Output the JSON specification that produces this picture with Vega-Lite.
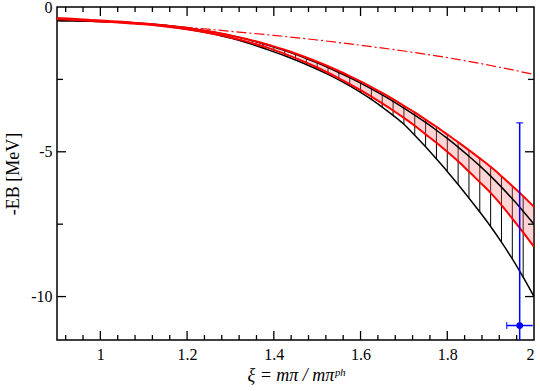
{
  "$schema": "https://vega.github.io/schema/vega-lite/v6.json",
  "width": 477,
  "height": 333,
  "autosize": "none",
  "padding": {"left": 57, "top": 7, "right": 6, "bottom": 51},
  "background": "white",
  "config": {
    "view": {"stroke": "#000000", "strokeWidth": 1.5},
    "font": "Liberation Serif",
    "axis": {
      "domain": false,
      "ticks": false,
      "tickSize": 0,
      "grid": false,
      "labelColor": "#000000",
      "labelFont": "Liberation Serif",
      "labelFontSize": 16,
      "titleFont": "Liberation Serif",
      "titleFontSize": 18,
      "titleFontWeight": "normal",
      "titleColor": "#000000"
    }
  },
  "datasets": {
    "curves": [
      {"x": 0.9, "bu": -0.47, "bl": -0.47, "ru": -0.38, "rl": -0.42, "dd": -0.40},
      {"x": 0.925, "bu": -0.475, "bl": -0.475, "ru": -0.40, "rl": -0.437},
      {"x": 0.95, "bu": -0.481, "bl": -0.481, "ru": -0.421, "rl": -0.456},
      {"x": 0.975, "bu": -0.49, "bl": -0.49, "ru": -0.445, "rl": -0.477},
      {"x": 1.0, "bu": -0.50, "bl": -0.50, "ru": -0.47, "rl": -0.50, "dd": -0.47},
      {"x": 1.025, "bu": -0.512, "bl": -0.516, "ru": -0.49, "rl": -0.52},
      {"x": 1.05, "bu": -0.528, "bl": -0.536, "ru": -0.513, "rl": -0.543},
      {"x": 1.075, "bu": -0.547, "bl": -0.561, "ru": -0.54, "rl": -0.57},
      {"x": 1.1, "bu": -0.57, "bl": -0.59, "ru": -0.57, "rl": -0.60, "dd": -0.57},
      {"x": 1.125, "bu": -0.598, "bl": -0.624, "ru": -0.601, "rl": -0.631},
      {"x": 1.15, "bu": -0.633, "bl": -0.665, "ru": -0.638, "rl": -0.671},
      {"x": 1.175, "bu": -0.673, "bl": -0.714, "ru": -0.681, "rl": -0.717},
      {"x": 1.2, "bu": -0.72, "bl": -0.77, "ru": -0.73, "rl": -0.77, "dd": -0.70},
      {"x": 1.225, "bu": -0.774, "bl": -0.831, "ru": -0.782, "rl": -0.829},
      {"x": 1.25, "bu": -0.835, "bl": -0.901, "ru": -0.84, "rl": -0.895},
      {"x": 1.275, "bu": -0.904, "bl": -0.981, "ru": -0.907, "rl": -0.969},
      {"x": 1.3, "bu": -0.98, "bl": -1.07, "ru": -0.98, "rl": -1.05, "dd": -0.84},
      {"x": 1.325, "bu": -1.066, "bl": -1.176, "ru": -1.061, "rl": -1.143},
      {"x": 1.35, "bu": -1.162, "bl": -1.291, "ru": -1.152, "rl": -1.247},
      {"x": 1.375, "bu": -1.266, "bl": -1.416, "ru": -1.251, "rl": -1.358},
      {"x": 1.4, "bu": -1.38, "bl": -1.55, "ru": -1.36, "rl": -1.48, "dd": -0.98},
      {"x": 1.425, "bu": -1.503, "bl": -1.684, "ru": -1.478, "rl": -1.618},
      {"x": 1.45, "bu": -1.636, "bl": -1.829, "ru": -1.606, "rl": -1.766},
      {"x": 1.475, "bu": -1.778, "bl": -1.984, "ru": -1.743, "rl": -1.923},
      {"x": 1.5, "bu": -1.93, "bl": -2.15, "ru": -1.89, "rl": -2.09, "dd": -1.14},
      {"x": 1.525, "bu": -2.09, "bl": -2.327, "ru": -2.045, "rl": -2.27},
      {"x": 1.55, "bu": -2.261, "bl": -2.519, "ru": -2.211, "rl": -2.461},
      {"x": 1.575, "bu": -2.44, "bl": -2.727, "ru": -2.385, "rl": -2.66},
      {"x": 1.6, "bu": -2.63, "bl": -2.95, "ru": -2.57, "rl": -2.87, "dd": -1.32},
      {"x": 1.625, "bu": -2.829, "bl": -3.192, "ru": -2.764, "rl": -3.094},
      {"x": 1.65, "bu": -3.038, "bl": -3.456, "ru": -2.968, "rl": -3.328},
      {"x": 1.675, "bu": -3.259, "bl": -3.742, "ru": -3.184, "rl": -3.574},
      {"x": 1.7, "bu": -3.49, "bl": -4.05, "ru": -3.41, "rl": -3.83, "dd": -1.52},
      {"x": 1.725, "bu": -3.732, "bl": -4.43, "ru": -3.642, "rl": -4.102},
      {"x": 1.75, "bu": -3.988, "bl": -4.83, "ru": -3.888, "rl": -4.398},
      {"x": 1.775, "bu": -4.257, "bl": -5.25, "ru": -4.137, "rl": -4.687},
      {"x": 1.8, "bu": -4.54, "bl": -5.68, "ru": -4.40, "rl": -5.00, "dd": -1.75},
      {"x": 1.825, "bu": -4.837, "bl": -6.13, "ru": -4.667, "rl": -5.327},
      {"x": 1.85, "bu": -5.153, "bl": -6.60, "ru": -4.943, "rl": -5.683},
      {"x": 1.875, "bu": -5.487, "bl": -7.08, "ru": -5.227, "rl": -6.047},
      {"x": 1.9, "bu": -5.84, "bl": -7.58, "ru": -5.52, "rl": -6.42, "dd": -2.02},
      {"x": 1.925, "bu": -6.221, "bl": -8.12, "ru": -5.841, "rl": -6.841},
      {"x": 1.95, "bu": -6.625, "bl": -8.70, "ru": -6.185, "rl": -7.305},
      {"x": 1.975, "bu": -7.051, "bl": -9.33, "ru": -6.531, "rl": -7.781},
      {"x": 2.0, "bu": -7.50, "bl": -10.0, "ru": -6.90, "rl": -8.28, "dd": -2.33}
    ],
    "exp": [
      {"x": 1.967, "y": -11.0, "xlo": 1.937, "xhi": 1.997, "ylo": -18.0, "yhi": -4.0}
    ],
    "xticks": [
      {"v": 0.92, "k": "minor"}, {"v": 0.96, "k": "minor"}, {"v": 1.0, "k": "major"},
      {"v": 1.04, "k": "minor"}, {"v": 1.08, "k": "minor"}, {"v": 1.12, "k": "minor"}, {"v": 1.16, "k": "minor"}, {"v": 1.2, "k": "major"},
      {"v": 1.24, "k": "minor"}, {"v": 1.28, "k": "minor"}, {"v": 1.32, "k": "minor"}, {"v": 1.36, "k": "minor"}, {"v": 1.4, "k": "major"},
      {"v": 1.44, "k": "minor"}, {"v": 1.48, "k": "minor"}, {"v": 1.52, "k": "minor"}, {"v": 1.56, "k": "minor"}, {"v": 1.6, "k": "major"},
      {"v": 1.64, "k": "minor"}, {"v": 1.68, "k": "minor"}, {"v": 1.72, "k": "minor"}, {"v": 1.76, "k": "minor"}, {"v": 1.8, "k": "major"},
      {"v": 1.84, "k": "minor"}, {"v": 1.88, "k": "minor"}, {"v": 1.92, "k": "minor"}, {"v": 1.96, "k": "minor"}
    ],
    "yticks": [
      {"v": -2.5, "k": "minor"}, {"v": -5, "k": "major"}, {"v": -7.5, "k": "minor"}, {"v": -10, "k": "major"}
    ]
  },
  "encoding": {
    "x": {"type": "quantitative",
          "scale": {"domain": [0.9, 2], "nice": false, "zero": false},
          "axis": {"orient": "bottom", "values": [1, 1.2, 1.4, 1.6, 1.8, 2],
                   "labelExpr": "'' + datum.value",
                   "labelPadding": 6, "title": "ξ = mπ / mπᵖʰ", "titleFontStyle": "italic", "titlePadding": 4}},
    "y": {"type": "quantitative",
          "scale": {"domain": [-11.5, 0], "nice": false, "zero": false},
          "axis": {"orient": "left", "values": [0, -5, -10],
                   "labelExpr": "'' + datum.value",
                   "labelPadding": 5, "title": "-EB [MeV]", "titlePadding": 8}}
  },
  "layer": [
    {
      "data": {"name": "curves"},
      "transform": [{"filter": "datum.x >= 1.1"}],
      "mark": {"type": "rule", "color": "#000000", "strokeWidth": 1, "clip": true},
      "encoding": {
        "x": {"field": "x"},
        "y": {"field": "ru"},
        "y2": {"field": "bl"}
      }
    },
    {
      "data": {"name": "curves"},
      "mark": {"type": "area", "color": "#ff7070", "opacity": 0.3, "interpolate": "monotone", "clip": true},
      "encoding": {
        "x": {"field": "x"},
        "y": {"field": "ru"},
        "y2": {"field": "rl"}
      }
    },
    {
      "data": {"name": "curves"},
      "mark": {"type": "line", "color": "#000000", "strokeWidth": 1.5, "interpolate": "monotone", "clip": true},
      "encoding": {"x": {"field": "x"}, "y": {"field": "bu"}}
    },
    {
      "data": {"name": "curves"},
      "mark": {"type": "line", "color": "#000000", "strokeWidth": 1.5, "interpolate": "monotone", "clip": true},
      "encoding": {"x": {"field": "x"}, "y": {"field": "bl"}}
    },
    {
      "data": {"name": "curves"},
      "mark": {"type": "line", "color": "#ff0000", "strokeWidth": 2, "interpolate": "monotone", "clip": true},
      "encoding": {"x": {"field": "x"}, "y": {"field": "ru"}}
    },
    {
      "data": {"name": "curves"},
      "mark": {"type": "line", "color": "#ff0000", "strokeWidth": 2, "interpolate": "monotone", "clip": true},
      "encoding": {"x": {"field": "x"}, "y": {"field": "rl"}}
    },
    {
      "data": {"name": "curves"},
      "transform": [{"filter": "isValid(datum.dd)"}],
      "mark": {"type": "line", "color": "#ff0000", "strokeWidth": 1.2, "strokeDash": [10, 3, 2, 3], "interpolate": "monotone", "clip": true},
      "encoding": {"x": {"field": "x"}, "y": {"field": "dd"}}
    },
    {
      "data": {"name": "exp"},
      "mark": {"type": "rule", "color": "#0000ff", "strokeWidth": 1.5, "clip": true},
      "encoding": {"x": {"field": "x"}, "y": {"field": "ylo"}, "y2": {"field": "yhi"}}
    },
    {
      "data": {"name": "exp"},
      "mark": {"type": "rule", "color": "#0000ff", "strokeWidth": 1.5, "clip": true},
      "encoding": {"x": {"field": "xlo"}, "x2": {"field": "xhi"}, "y": {"field": "y"}}
    },
    {
      "data": {"name": "exp"},
      "mark": {"type": "tick", "color": "#0000ff", "orient": "horizontal", "size": 7, "thickness": 1.5, "clip": true},
      "encoding": {"x": {"field": "x"}, "y": {"field": "yhi"}}
    },
    {
      "data": {"name": "exp"},
      "mark": {"type": "tick", "color": "#0000ff", "orient": "vertical", "size": 7, "thickness": 1.5, "clip": true},
      "encoding": {"x": {"field": "xlo"}, "y": {"field": "y"}}
    },
    {
      "data": {"name": "exp"},
      "mark": {"type": "point", "shape": "circle", "filled": true, "color": "#0000ff", "size": 45, "opacity": 1, "clip": true},
      "encoding": {"x": {"field": "x"}, "y": {"field": "y"}}
    },
    {
      "data": {"name": "xticks"},
      "transform": [{"filter": "datum.k == 'major'"}],
      "mark": {"type": "rule", "color": "#000000", "strokeWidth": 1.3},
      "encoding": {"x": {"field": "v"}, "y": {"datum": -11.5}, "y2": {"datum": -11.19}}
    },
    {
      "data": {"name": "xticks"},
      "transform": [{"filter": "datum.k == 'minor'"}],
      "mark": {"type": "rule", "color": "#000000", "strokeWidth": 1.3},
      "encoding": {"x": {"field": "v"}, "y": {"datum": -11.5}, "y2": {"datum": -11.33}}
    },
    {
      "data": {"name": "xticks"},
      "transform": [{"filter": "datum.k == 'major'"}],
      "mark": {"type": "rule", "color": "#000000", "strokeWidth": 1.3},
      "encoding": {"x": {"field": "v"}, "y": {"datum": 0}, "y2": {"datum": -0.31}}
    },
    {
      "data": {"name": "xticks"},
      "transform": [{"filter": "datum.k == 'minor'"}],
      "mark": {"type": "rule", "color": "#000000", "strokeWidth": 1.3},
      "encoding": {"x": {"field": "v"}, "y": {"datum": 0}, "y2": {"datum": -0.17}}
    },
    {
      "data": {"name": "yticks"},
      "mark": {"type": "tick", "orient": "horizontal", "color": "#000000", "thickness": 1.3, "opacity": 1, "clip": true},
      "encoding": {
        "y": {"field": "v"},
        "x": {"datum": 0.9},
        "size": {"condition": {"test": "datum.k == 'major'", "value": 18}, "value": 12}
      }
    },
    {
      "data": {"name": "yticks"},
      "mark": {"type": "tick", "orient": "horizontal", "color": "#000000", "thickness": 1.3, "opacity": 1, "clip": true},
      "encoding": {
        "y": {"field": "v"},
        "x": {"datum": 2},
        "size": {"condition": {"test": "datum.k == 'major'", "value": 18}, "value": 12}
      }
    }
  ]
}
